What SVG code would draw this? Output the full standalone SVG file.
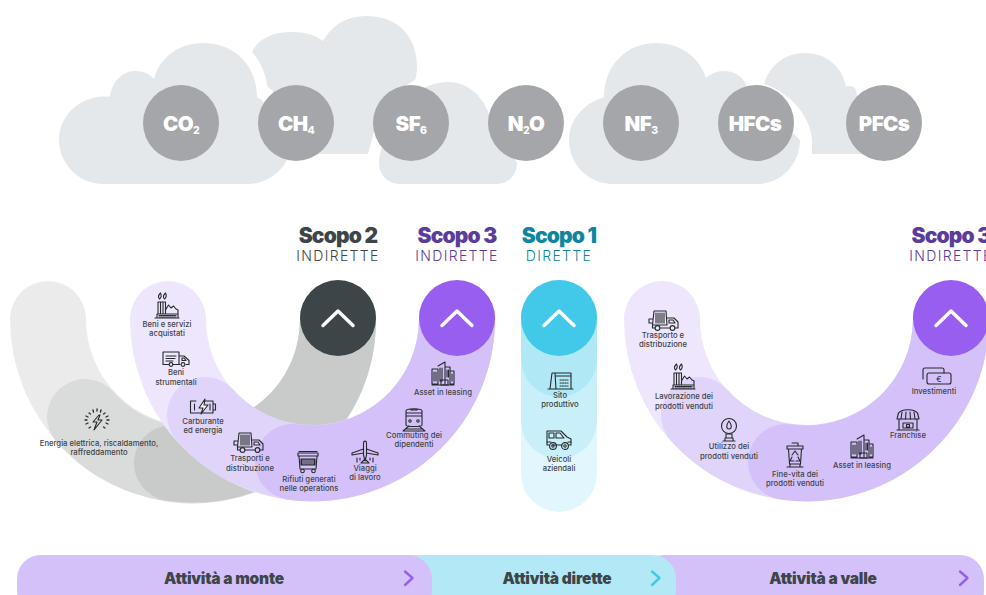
<svg xmlns="http://www.w3.org/2000/svg" width="986" height="595" viewBox="0 0 986 595">
<style>
text{font-family:"Inter","Liberation Sans",sans-serif}
.cl{fill:#e5e8eb}
.gas{fill:#a4a6a9}
.gt{fill:#fff;font-size:20.500px;font-weight:900;text-anchor:middle;letter-spacing:-.6px}
.sub{font-size:10.500px;font-weight:800}
.arc{fill:none;stroke-width:76;stroke-linecap:round}
.t1{font-size:21px;font-weight:900;text-anchor:middle;letter-spacing:-.8px}
.t2{font-size:14px;font-weight:300;text-anchor:middle;letter-spacing:1.350px}
.dk{fill:#3d4548}.pu{fill:#5b3c9b}.te{fill:#0e869e}
.chev{fill:none;stroke:#fff;stroke-width:3.500;stroke-linecap:round;stroke-linejoin:round}
.lb{fill:#3d4548;font-size:7.700px;font-weight:500;text-anchor:middle}
.ic{fill:none;stroke:#25292b;stroke-width:1.100;stroke-linejoin:round;stroke-linecap:round}
.bar{fill:#3d4548;font-size:15.500px;font-weight:900;text-anchor:middle;letter-spacing:-.2px}
.bc{fill:none;stroke-width:2.400;stroke-linecap:round;stroke-linejoin:round}
</style>
<defs>
<g id="i-factory" class="ic">
<path d="M-12 13H12M-10 13V9H11V13M-9 9V-3H-6.500V9M-4 9V-3H-1.500V9M-9 -3H-1.500M-1.500 5L1.500 0L4 3L6.500 1L9 4L11 5V9"/>
<path d="M-8 10.500H9M-8 12H9" stroke-dasharray="1.300 .8"/>
<path d="M-7.500 -6C-9.500 -8-8.500 -10-6.500 -12C-5.500 -10-5 -8-7.500 -6ZM-2.500 -6C-4.500 -8-3.500 -10-1.500 -12C-.5 -10 0 -8-2.500 -6Z"/>
</g>
<g id="i-van" class="ic">
<path d="M-7 5.500H-13V-7H3V5.500H-3M3 -3H8L13 1.500V5.500H10M3 5.500H4"/>
<circle cx="-5" cy="5.500" r="1.900"/><circle cx="7" cy="5.500" r="1.900"/>
<path d="M-10 -3H0M-10 -.5H-1M-10 2H-3M6 -1H8L10 1.500H6Z"/>
</g>
<g id="i-batt" class="ic">
<path d="M-7 -6H-12.500V6H-2M2 -6H10V6H-3M10 -3H12.500V3H10"/>
<path d="M-8.500 -3V3M7 -3V3"/>
<path d="M2 -8L-4 1H0L-2 7L5 -2H1Z" fill="#fff"/>
</g>
<g id="i-truck" class="ic">
<path d="M-9 -9H3L4 5H-10.500ZM-10.500 5V8H-8M-3 8H7M12 8H15V2L11 -2H4"/>
<path d="M-7 -7V3M-5 -7V3M-3 -7V3M-1 -7V3M1 -7V3M-10.500 -1H-14V3H-10.500M6 0H10L12 3H6Z"/>
<circle cx="-5.500" cy="8" r="2.400"/><circle cx="9.500" cy="8" r="2.400"/>
</g>
<g id="i-bin" class="ic">
<path d="M-10 -8H10V-5H-10ZM-9 -5L-8 8H8L9 -5"/>
<path d="M-9 -9.500H9M-6 -2V4M-4 -2V4M-2 -2V4M0 -2V4M2 -2V4M4 -2V4M6 -2V4M-7 -2H7V4H-7Z"/>
<circle cx="-5.500" cy="10" r="1.800"/><circle cx="5.500" cy="10" r="1.800"/>
</g>
<g id="i-plane" class="ic">
<path d="M-1.500 -9C-1.500 -11.500 1.500 -11.500 1.500 -9V3L0 9L-1.500 3ZM-1.500 -3L-13 1V3L-1.500 1M1.500 -3L13 1V3L1.500 1M-4 11L-1 8H1L4 11Z"/>
<path d="M-8 6V10M-5 6V8M5 6V8M8 6V10"/>
</g>
<g id="i-train" class="ic">
<path d="M-8 -8C-8 -11 8 -11 8 -8V6C8 8-8 8-8 6ZM-8 -3H8M-8 -6H8M-3 -9H3"/>
<circle cx="-4" cy="2" r="1.200"/><circle cx="4" cy="2" r="1.200"/>
<path d="M-5 7L-11 12H11L5 7M-8 10H8"/>
</g>
<g id="i-bld" class="ic">
<path d="M-11 -5H-5V10H-11ZM-5 -8L2 -12V10M2 -7H7V10M7 -3H11V10H7M-11 11H11"/>
<path d="M-9 -2V7M-7 -2V7M-3 -6V7M-1 -6V7M4 -4V3M5.500 -4V3M9 0V7M-2 6H5V11H-2Z"/>
</g>
<g id="i-site" class="ic">
<path d="M-12 9H13M-10 9L-8 -7H-5L-4 9M-5 -7H11V9M-4 -4H11"/>
<path d="M0 0H8M0 3H8M0 6H8" stroke-dasharray="1.300 1.200"/>
</g>
<g id="i-car" class="ic">
<path d="M-12 5V-9H2L8 -3L12 -1V5H10M-7 5H3M-12 5H-10"/>
<path d="M-10 -7H-5V-2H-10ZM-3 -7H1L5 -2H-3ZM-12 2H-8M9 2H12"/>
<circle cx="-6" cy="6" r="3.400"/><circle cx="-6" cy="6" r="1.200"/><circle cx="6" cy="6" r="3.400"/><circle cx="6" cy="6" r="1.200"/>
</g>
<g id="i-burst" class="ic">
<path d="M2 -6L-4 1H0L-3 9L5 -1H1L3 -6Z"/>
<path d="M-11 3L-9 2M-12 -1H-10M-11 -5L-9 -4M-8 -8L-6.500 -7M-4 -11L-3.500 -9M0 -12V-10M4 -11L3.500 -9M8 -8L6.500 -7M11 -5L9 -4M12 -1H10M11 3L9 2M8 7L6.500 6M-8 7L-6.500 6" stroke-width="1.300"/>
</g>
<g id="i-lamp" class="ic">
<circle cx="0" cy="-4" r="7.500"/>
<path d="M0 -9C-3 -5-3 -1 0 -1C3 -1 3 -5 0 -9ZM-3 4H3M-3 4V8H3V4M-6 11H6M-4 8V11M4 8V11"/>
</g>
<g id="i-rbin" class="ic">
<path d="M-8 -9H8V-6H-8ZM-3 -12H3V-9M-6.500 -6L-5.500 9H5.500L6.500 -6M-8 12H8M-5 9V12M5 9V12"/>
<path d="M-3 0L0 -4L3 0M-5 6H-1M1 6H5M-5 6L-3 2M5 6L3 2"/>
</g>
<g id="i-shop" class="ic">
<path d="M-10 -4C-10 -11 10 -11 10 -4L11 0H-11ZM-9 0V11H9V0M-11 11H11"/>
<path d="M-6 -7L-7 0M-2 -7L-2.500 0M2 -7L2.500 0M6 -7L7 0M-5 4H5V9H-5ZM-1.500 5.500H1.500V8H-1.500Z"/>
</g>
<g id="i-money" class="ic">
<path d="M-14 3V-6C-14 -7-13 -8-12 -8H5C6 -8 7 -7 7 -6V-3"/>
<rect x="-10" y="-3" width="24" height="11" rx="2" fill="none"/>
</g>
</defs>

<g id="clouds">
<path id="cloud-ch4" class="cl" d="M252 52C258 39 272 32 292 32C305 32 316 35 323 41C332 25 347 16 366 16C398 16 417 36 417 67C417 73 416 78 415 80C395 92 380 106 377 121L368 154H300L272 90C268 88 267 86 267 84C265 72 260 61 252 52Z"/>
<path id="cloud-pfc" class="cl" d="M764 84C770 65 785 53 805 53C827 53 842 67 846 86C850 86 853 86 855 88L875 154H812V141C812 118 790 92 764 84Z"/>
<path id="cloud-co2" class="cl" d="M103 184C79 184 59 164 59 140C59 116 79 97 103 96.500H110C112 82 122 71 135 71C143 71 150 74 154 79C160 57 179 43 203 43C235 43 257 66 257 97C258 98 259 99 261 99L292 140C292 164 272 184 248 184Z"/>
<path id="cloud-sf6" class="cl" d="M400 184C388 184 379 175 379 163C379 155 381 149 385 140L400 115C408 96 426 82 448 82C467 82 482 95 489 114L517 163C517 175 508 184 497 184Z"/>
<path id="cloud-nf3" class="cl" d="M613 184C588 184 569 164 569 140C569 120 583 104 604 97C604 65 627 43 656 43C681 43 700 58 706 78C711 74 716 71 723 71C735 71 744 77 747 87L800 140C800 164 781 184 757 184Z"/>
</g>

<g id="gases">
<g id="gas-co2"><circle class="gas" cx="181" cy="123" r="38"/><text class="gt" x="181" y="131">CO<tspan class="sub" dy="3">2</tspan></text></g>
<g id="gas-ch4"><circle class="gas" cx="296" cy="123" r="38"/><text class="gt" x="296" y="131">CH<tspan class="sub" dy="3">4</tspan></text></g>
<g id="gas-sf6"><circle class="gas" cx="411" cy="123" r="38"/><text class="gt" x="411" y="131">SF<tspan class="sub" dy="3">6</tspan></text></g>
<g id="gas-n2o"><circle class="gas" cx="526" cy="123" r="38"/><text class="gt" x="526" y="131">N<tspan class="sub" dy="3">2</tspan><tspan dy="-3">O</tspan></text></g>
<g id="gas-nf3"><circle class="gas" cx="641" cy="123" r="38"/><text class="gt" x="641" y="131">NF<tspan class="sub" dy="3">3</tspan></text></g>
<g id="gas-hfc"><circle class="gas" cx="756" cy="123" r="38"/><text class="gt" x="755" y="131">HFCs</text></g>
<g id="gas-pfc"><circle class="gas" cx="884" cy="123" r="38"/><text class="gt" x="884" y="131">PFCs</text></g>
</g>

<g id="headers">
<text class="t1 dk" x="338" y="243">Scopo 2</text><text class="t2 dk" x="338" y="261">INDIRETTE</text>
<text class="t1 pu" x="457" y="243">Scopo 3</text><text class="t2 pu" x="457" y="261">INDIRETTE</text>
<text class="t1 te" x="559" y="243">Scopo 1</text><text class="t2 te" x="559" y="261">DIRETTE</text>
<text class="t1 pu" x="951" y="243">Scopo 3</text><text class="t2 pu" x="951" y="261">INDIRETTE</text>
</g>

<g id="scope2-band">
<path class="arc" stroke="#ebebeb" d="M48 319A145 145 0 0 0 338 319"/>
<path class="arc" stroke="#dadbdb" d="M85 417A145 145 0 0 0 338 319"/>
<path class="arc" stroke="#c9caca" d="M172 463A145 145 0 0 0 338 319"/>
<circle cx="338" cy="318" r="38" fill="#3d4548"/>
<path class="chev" d="M323 325.500L338 311L353 325.500"/>
</g>
<g id="scope3-up-band">
<path class="arc" stroke="#ede6fd" d="M168 319A144.500 144.500 0 0 0 457 319"/>
<path class="arc" stroke="#e0d4fb" d="M205 415A144.500 144.500 0 0 0 457 319"/>
<path class="arc" stroke="#d5c1f9" d="M293 462A144.500 144.500 0 0 0 457 319"/>
<circle cx="457" cy="318" r="38" fill="#985eef"/>
<path class="chev" d="M442 325.500L457 311L472 325.500"/>
</g>
<g id="scope1-band">
<path class="arc" stroke="#e2f6fd" d="M559 318V474"/>
<path class="arc" stroke="#c9effa" d="M559 318V421"/>
<path class="arc" stroke="#b1e8f6" d="M559 318V359"/>
<circle cx="559" cy="318" r="38" fill="#42c8e9"/>
<path class="chev" d="M544 325.500L559 311L574 325.500"/>
</g>
<g id="scope3-down-band">
<path class="arc" stroke="#ede6fd" d="M662 319A144.500 144.500 0 0 0 951 319"/>
<path class="arc" stroke="#e0d4fb" d="M699 415A144.500 144.500 0 0 0 951 319"/>
<path class="arc" stroke="#d5c1f9" d="M786 462A144.500 144.500 0 0 0 951 319"/>
<circle cx="951" cy="318" r="38" fill="#985eef"/>
<path class="chev" d="M936 325.500L951 311L966 325.500"/>
</g>

<g id="n-energia"><use href="#i-burst" transform="translate(97 421)"/><text class="lb" x="99" y="446">Energia elettrica, riscaldamento,</text><text class="lb" x="99" y="455">raffreddamento</text></g>
<g id="n-beni-servizi"><use href="#i-factory" transform="translate(167 305)"/><text class="lb" x="167" y="327">Beni e servizi</text><text class="lb" x="167" y="336">acquistati</text></g>
<g id="n-beni-strum"><use href="#i-van" transform="translate(176 359)"/><text class="lb" x="176" y="375">Beni</text><text class="lb" x="176" y="385">strumentali</text></g>
<g id="n-carburante"><use href="#i-batt" transform="translate(203 407)"/><text class="lb" x="203" y="424">Carburante</text><text class="lb" x="203" y="433">ed energia</text></g>
<g id="n-trasporti"><use href="#i-truck" transform="translate(248 442)"/><text class="lb" x="250" y="461">Trasporti e</text><text class="lb" x="250" y="471">distribuzione</text></g>
<g id="n-rifiuti"><use href="#i-bin" transform="translate(308 461)"/><text class="lb" x="309" y="482">Rifiuti generati</text><text class="lb" x="309" y="491">nelle operations</text></g>
<g id="n-viaggi"><use href="#i-plane" transform="translate(365 452)"/><text class="lb" x="365" y="471">Viaggi</text><text class="lb" x="365" y="480">di lavoro</text></g>
<g id="n-commuting"><use href="#i-train" transform="translate(414 419)"/><text class="lb" x="414" y="438">Commuting dei</text><text class="lb" x="414" y="447">dipendenti</text></g>
<g id="n-asset-up"><use href="#i-bld" transform="translate(443 374)"/><text class="lb" x="443" y="395">Asset in leasing</text></g>
<g id="n-sito"><use href="#i-site" transform="translate(560 380)"/><text class="lb" x="560" y="398">Sito</text><text class="lb" x="560" y="407">produttivo</text></g>
<g id="n-veicoli"><use href="#i-car" transform="translate(559 440)"/><text class="lb" x="559" y="462">Veicoli</text><text class="lb" x="559" y="471">aziendali</text></g>
<g id="n-trasporto"><use href="#i-truck" transform="translate(663 320)"/><text class="lb" x="663" y="338">Trasporto e</text><text class="lb" x="663" y="347">distribuzione</text></g>
<g id="n-lavorazione"><use href="#i-factory" transform="translate(683 376)"/><text class="lb" x="684" y="399">Lavorazione dei</text><text class="lb" x="684" y="409">prodotti venduti</text></g>
<g id="n-utilizzo"><use href="#i-lamp" transform="translate(729 430)"/><text class="lb" x="729" y="449">Utilizzo dei</text><text class="lb" x="729" y="459">prodotti venduti</text></g>
<g id="n-fine"><use href="#i-rbin" transform="translate(795 455)"/><text class="lb" x="795" y="477">Fine-vita dei</text><text class="lb" x="795" y="486">prodotti venduti</text></g>
<g id="n-asset-down"><use href="#i-bld" transform="translate(862 447)"/><text class="lb" x="862" y="468">Asset in leasing</text></g>
<g id="n-franchise"><use href="#i-shop" transform="translate(908 419)"/><text class="lb" x="908" y="438">Franchise</text></g>
<g id="n-invest"><use href="#i-money" transform="translate(937 376)"/><text x="939" y="382" text-anchor="middle" font-size="8" fill="#25292b">€</text><text class="lb" x="934" y="394">Investimenti</text></g>

<g id="activity-bar">
<rect x="640" y="555" width="344" height="60" rx="24" fill="#d5c1f9"/>
<rect x="380" y="555" width="296" height="60" rx="24" fill="#b3e9f7"/>
<rect x="17" y="555" width="415" height="60" rx="24" fill="#d5c1f9"/>
<text class="bar" x="224" y="584">Attività a monte</text>
<text class="bar" x="557" y="584">Attività dirette</text>
<text class="bar" x="823" y="584">Attività a valle</text>
<path class="bc" stroke="#985eef" d="M405 571.500L412.500 578L405 585"/>
<path class="bc" stroke="#42c8e9" d="M652 571.500L659.500 578L652 585"/>
<path class="bc" stroke="#985eef" d="M960 571.500L967.500 578L960 585"/>
</g>
</svg>
